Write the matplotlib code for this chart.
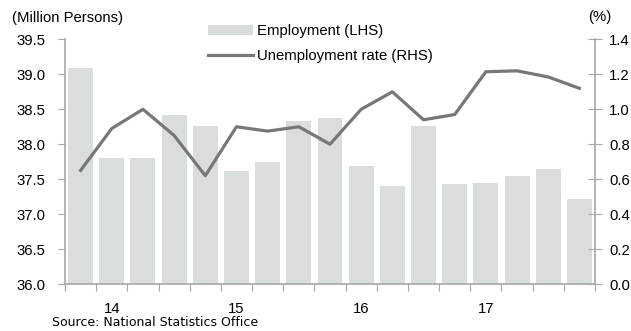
import matplotlib.pyplot as plt
from matplotlib.patches import Patch
from matplotlib.lines import Line2D

plt.rcParams['font.family'] = ['Liberation Sans', 'DejaVu Sans']

# quarterly, 13Q4 .. 17Q4
employment = [39.09, 37.81, 37.81, 38.42, 38.26, 37.61, 37.75, 38.33, 38.37,
              37.69, 37.40, 38.26, 37.43, 37.45, 37.54, 37.65, 37.21]
unemp_rate = [0.65, 0.89, 1.00, 0.85, 0.62, 0.90, 0.875, 0.90, 0.80,
              1.00, 1.10, 0.94, 0.97, 1.215, 1.22, 1.185, 1.12]
year_labels = ['14', '15', '16', '17']
year_pos = [1, 5, 9, 13]

axis_col = '#a6a6a6'
fs = 10.7

fig = plt.figure(figsize=(6.31, 3.31), dpi=100)
ax = fig.add_axes([65/631, 1 - 284/331, 530/631, (284 - 39.4)/331])
x = list(range(len(employment)))
ax.bar(x, employment, width=0.8, color='#d9dedd', zorder=1)
ax.set_ylim(36.0, 39.5)
ax.set_xlim(-0.5, len(employment) - 0.5)
ax.set_yticks([36.0 + 0.5*i for i in range(8)])
ax.set_yticklabels([f'{36.0 + 0.5*i:.1f}' for i in range(8)], fontsize=fs)

# tick marks between quarters, year labels without marks
ax.set_xticks([i - 0.5 for i in range(len(employment) + 1)])
ax.set_xticklabels([])
ax.set_xticks(year_pos, minor=True)
ax.set_xticklabels(year_labels, minor=True, fontsize=fs)
ax.tick_params(axis='x', which='major', length=5, color=axis_col, direction='out')
ax.tick_params(axis='x', which='minor', length=0, pad=13)
ax.tick_params(axis='y', length=5, color=axis_col, pad=9)

for side in ['top', 'right']:
    ax.spines[side].set_visible(False)
for side in ['left', 'bottom']:
    ax.spines[side].set_color(axis_col)
    ax.spines[side].set_linewidth(1.2)

ax2 = ax.twinx()
ax2.plot(x, unemp_rate, color='#777777', lw=2.3, zorder=3)
ax2.set_ylim(0.0, 1.4)
ax2.set_yticks([0.2*i for i in range(8)])
ax2.set_yticklabels([f'{0.2*i:.1f}' for i in range(8)], fontsize=fs)
ax2.tick_params(axis='y', length=10, direction='inout', color=axis_col, pad=5)
for side in ['top', 'left', 'bottom']:
    ax2.spines[side].set_visible(False)
ax2.spines['right'].set_color(axis_col)
ax2.spines['right'].set_linewidth(1.2)

fig.text(12/631, 1 - 18/331, '(Million Persons)', fontsize=fs, va='center', ha='left')
fig.text(600/631, 1 - 17/331, '(%)', fontsize=fs, va='center', ha='center')

handles = [Patch(facecolor='#d9dedd', edgecolor='none'),
           Line2D([0], [0], color='#777777', lw=2.3)]
fig.legend(handles, ['Employment (LHS)', 'Unemployment rate (RHS)'],
           loc='upper left', bbox_to_anchor=(208/631, 1 - 24/331),
           frameon=False, fontsize=fs, borderpad=0, borderaxespad=0,
           handlelength=3.0, handletextpad=0.3, labelspacing=0.75)

fig.text(52/631, 1 - 323/331, 'Source: National Statistics Office',
         fontsize=9, family='DejaVu Sans', va='center', ha='left')

fig.savefig('out.png', dpi=100)
